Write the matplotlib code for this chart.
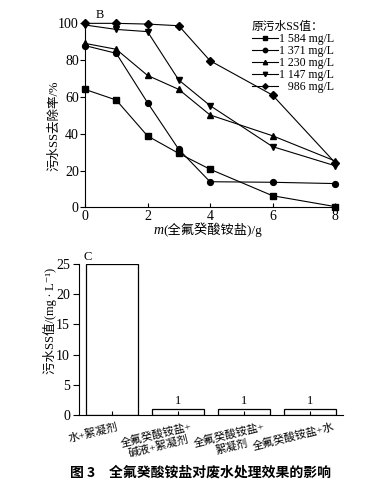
import matplotlib
matplotlib.use("Agg")
import matplotlib.pyplot as plt
from matplotlib.transforms import ScaledTranslation

plt.rcParams['font.family'] = ['Liberation Serif', 'Noto Sans CJK SC', 'DejaVu Sans']
plt.rcParams['axes.unicode_minus'] = False

# ---------------- data (B) ----------------
dosage = [0, 1, 2, 3, 4, 6, 8]
ss_1584 = [64.1, 58.3, 38.8, 29.3, 20.7, 6.3, 0.4]
ss_1371 = [87.9, 83.7, 56.9, 31.5, 13.9, 13.6, 12.9]
ss_1230 = [89.1, 85.9, 71.7, 64.1, 50.2, 38.9, 25.2]
ss_1147 = [99.1, 96.7, 95.5, 69.2, 55.3, 33.0, 22.6]
ss_986 = [100.0, 100.0, 99.6, 98.7, 79.7, 61.0, 24.3]
series_labels = ['1 584 mg/L', '1 371 mg/L', '1 230 mg/L', '1 147 mg/L', '\u2007 986 mg/L']

# ---------------- data (C) ----------------
groups = ['水+絮凝剂', '全氟癸酸铵盐+\n碱液+絮凝剂', '全氟癸酸铵盐+\n絮凝剂', '全氟癸酸铵盐+水']
ss_value = [25, 1, 1, 1]
bar_text = ['', '1', '1', '1']

W, H = 366, 482
fig = plt.figure(figsize=(W / 100, H / 100), dpi=100)

def box(l, t, r, b):
    return [l / W, (H - b) / H, (r - l) / W, (b - t) / H]

# ---------------- chart B ----------------
ax = fig.add_axes(box(85, 21.5, 335, 207.3))
markers = ['s', 'o', '^', 'v', 'D']
sizes = [4.2, 4.2, 4.2, 4.2, 3.8]
for y, m, s, lab in zip([ss_1584, ss_1371, ss_1230, ss_1147, ss_986], markers, sizes, series_labels):
    ax.plot(dosage, y, color='black', lw=0.8, marker=m, ms=s, label=lab, clip_on=False)
ax.set_xlim(0, 8)
ax.set_ylim(0, 101)
ax.set_xticks([0, 2, 4, 6, 8])
ax.set_yticks([0, 20, 40, 60, 80, 100])
ax.spines['top'].set_visible(False)
ax.spines['right'].set_visible(False)
ax.tick_params(axis='x', direction='in', length=3, labelsize=10, pad=2)
ax.tick_params(axis='y', direction='out', length=3.5, labelsize=10, pad=1)
ax.text(15 / 250, 1.035, 'B', transform=ax.transAxes, fontsize=9, va='center', ha='center')
leg = ax.legend(loc='upper left', bbox_to_anchor=(252 / W, 1 - 21 / H), bbox_transform=fig.transFigure,
                frameon=False, fontsize=8.5, title='原污水SS值：', title_fontsize=8.5,
                labelspacing=0.0, handlelength=2.2, handletextpad=0.1, borderpad=0, borderaxespad=0,
                markerscale=0.75)
leg._legend_box.align = 'left'

fig.text(163 / W, 1 - 230 / H, 'm', style='italic', fontsize=10, ha='right', va='center')
fig.text(163 / W, 1 - 230 / H, '(全氟癸酸铵盐)/g', fontsize=9.5, ha='left', va='center')
fig.text(54 / W, 1 - 126 / H, '污水SS去除率/%', fontsize=9, rotation=90, ha='center', va='center')

# ---------------- chart C ----------------
ax2 = fig.add_axes(box(79, 263.8, 343, 415))
pos = list(range(len(groups)))
bars = ax2.bar(pos, ss_value, width=0.8, color='white', edgecolor='black', linewidth=0.9)
for p, v, t in zip(pos, ss_value, bar_text):
    ax2.text(p, v + 0.25, t, ha='center', va='bottom', fontsize=9)
ax2.set_xlim(-0.5, 3.5)
ax2.set_ylim(0, 25)
ax2.set_yticks([0, 5, 10, 15, 20, 25])
ax2.set_xticks(pos)
ax2.set_xticklabels([])
# rotated category labels, each nudged right of its tick like the original
off = [4, 12, 19, 23]
for p, g, dx in zip(pos, groups, off):
    ax2.text(p, 0, g, transform=ax2.get_xaxis_transform() + ScaledTranslation(dx / 100, -6 / 100, fig.dpi_scale_trans),
             rotation=14, ha='right', va='top', rotation_mode='anchor', multialignment='center',
             fontsize=8, linespacing=1.05)
ax2.spines['top'].set_visible(False)
ax2.spines['right'].set_visible(False)
ax2.tick_params(axis='x', direction='in', length=3)
ax2.tick_params(axis='y', direction='out', length=4.5, labelsize=10, pad=2)
ax2.text(8.7 / 264, 1.045, 'C', transform=ax2.transAxes, fontsize=9, va='center', ha='center')
fig.text(50 / W, 1 - 321 / H, '污水SS值/(mg\u2009·\u2009L\u207b\u00b9)', fontsize=9, rotation=90,
         ha='center', va='center')

fig.text(200 / W, 1 - 473 / H, '图 3　全氟癸酸铵盐对废水处理效果的影响', fontsize=10,
         fontweight='bold', ha='center', va='center', family=['Noto Sans CJK SC', 'DejaVu Sans'])

fig.savefig('out.png', dpi=100)
